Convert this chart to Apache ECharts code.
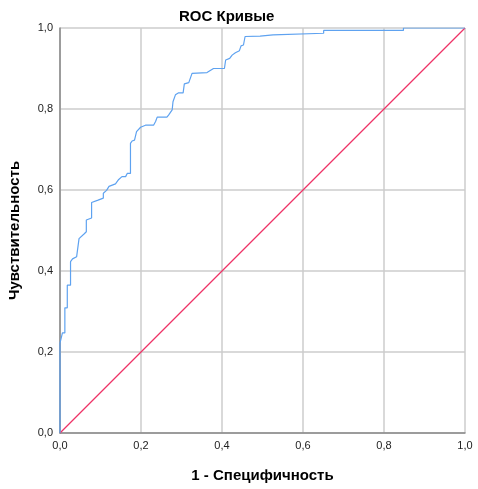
<!DOCTYPE html>
<html>
<head>
<meta charset="utf-8">
<script src="https://cdn.jsdelivr.net/npm/echarts@6/dist/echarts.min.js"></script>
<style>
  html, body { margin: 0; padding: 0; background: #fff; }
  #chart-roc { width: 478px; height: 489px; }
</style>
</head>
<body>
<div id="chart-roc"></div>
<script>
// ROC curve (1 - specificity, sensitivity)
const fprValues = [
  0, 0, 0.001, 0.006, 0.012, 0.012, 0.018, 0.018, 0.026, 0.026,
  0.031, 0.041, 0.047, 0.060, 0.065, 0.065, 0.078, 0.078, 0.094, 0.107,
  0.107, 0.115, 0.121, 0.137, 0.145, 0.153, 0.162, 0.166, 0.174, 0.174,
  0.178, 0.184, 0.189, 0.199, 0.211, 0.231, 0.236, 0.240, 0.264, 0.268,
  0.277, 0.279, 0.285, 0.293, 0.304, 0.307, 0.318, 0.326, 0.363, 0.379,
  0.406, 0.409, 0.419, 0.425, 0.433, 0.443, 0.447, 0.453, 0.457, 0.494,
  0.526, 0.526, 0.651, 0.651, 0.848, 0.848, 1.000
];
const tprValues = [
  0, 0.222, 0.222, 0.247, 0.247, 0.309, 0.309, 0.365, 0.365, 0.423,
  0.430, 0.435, 0.480, 0.492, 0.497, 0.526, 0.531, 0.569, 0.575, 0.580,
  0.592, 0.599, 0.609, 0.615, 0.626, 0.633, 0.633, 0.641, 0.641, 0.715,
  0.721, 0.723, 0.744, 0.755, 0.760, 0.760, 0.769, 0.780, 0.780, 0.785,
  0.798, 0.818, 0.835, 0.840, 0.840, 0.862, 0.865, 0.888, 0.890, 0.900,
  0.900, 0.921, 0.925, 0.933, 0.939, 0.944, 0.956, 0.958, 0.979, 0.980,
  0.983, 0.987, 0.987, 0.994, 0.994, 1.000, 1.000
];
// reference line
const diagX = [0, 1];
const diagY = [0, 1];

const titleText = 'ROC Кривые';
const xTitle = '1 - Специфичность';
const yTitle = 'Чувствительность';

const fontName = '"Liberation Sans", Arial, sans-serif';

const rocChart = echarts.init(document.querySelector('#chart-roc'));

const tickFmt = function (v) {
  return v.toFixed(1).replace('.', ',');
};

rocChart.setOption({
  animation: false,
  title: {
    text: titleText,
    left: 174,
    top: 4,
    textStyle: { fontFamily: fontName, fontSize: 15, fontWeight: 'bold', color: '#000' }
  },
  grid: {
    left: 60,
    right: 13,
    top: 28,
    bottom: 56,
    containLabel: false,
    outerBoundsMode: 'none'
  },
  xAxis: {
    type: 'value',
    min: 0,
    max: 1,
    interval: 0.2,
    name: xTitle,
    nameLocation: 'middle',
    nameGap: 35,
    nameTextStyle: { fontFamily: fontName, fontSize: 15, fontWeight: 'bold', color: '#000' },
    axisLine: { lineStyle: { color: '#888', width: 1.5 } },
    axisTick: { show: false },
    axisLabel: { formatter: tickFmt, fontFamily: fontName, fontSize: 11, color: '#222', margin: 7 },
    splitLine: { show: true, lineStyle: { color: '#cccccc', width: 1.5 } }
  },
  yAxis: {
    type: 'value',
    min: 0,
    max: 1,
    interval: 0.2,
    name: yTitle,
    nameLocation: 'middle',
    nameGap: 38,
    nameTextStyle: { fontFamily: fontName, fontSize: 15, fontWeight: 'bold', color: '#000' },
    axisLine: { show: true, lineStyle: { color: '#888', width: 1.5 } },
    axisTick: { show: false },
    axisLabel: { formatter: tickFmt, fontFamily: fontName, fontSize: 11, color: '#222', margin: 7 },
    splitLine: { show: true, lineStyle: { color: '#cccccc', width: 1.5 } }
  },
  series: [
    {
      name: 'diag',
      type: 'line',
      showSymbol: false,
      data: diagX.map((x, i) => [x, diagY[i]]),
      lineStyle: { color: '#ee3366', width: 1.2 },
      z: 2
    },
    {
      name: 'roc',
      type: 'line',
      showSymbol: false,
      data: fprValues.map((x, i) => [x, tprValues[i]]),
      lineStyle: { color: '#5ea2f0', width: 1.2 },
      z: 3
    }
  ]
});
</script>
</body>
</html>
